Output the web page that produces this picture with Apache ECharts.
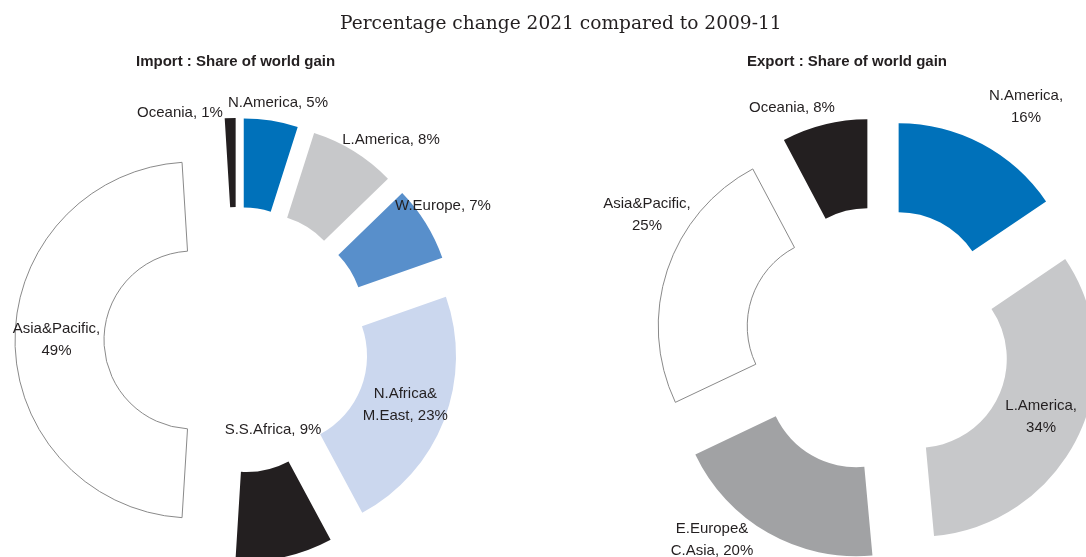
<!DOCTYPE html>
<html>
<head>
<meta charset="utf-8">
<script src="https://cdn.jsdelivr.net/npm/echarts@6/dist/echarts.min.js"></script>
<style>
html,body{margin:0;padding:0;background:#fff;}
#chart{width:1086px;height:557px;}
</style>
</head>
<body>
<div id="chart"></div>
<script>
// ---- Data ----
var importCategories = ['N.America', 'L.America', 'W.Europe', 'N.Africa&M.East', 'S.S.Africa', 'Asia&Pacific', 'Oceania'];
var importValues = [5, 8, 7, 23, 9, 49, 1];
var importLabelNames = ['N.America, ', 'L.America, ', 'W.Europe, ', 'N.Africa&\nM.East, ', 'S.S.Africa, ', 'Asia&Pacific,\n', 'Oceania, '];

var exportCategories = ['N.America', 'L.America', 'E.Europe&C.Asia', 'Asia&Pacific', 'Oceania'];
var exportValues = [16, 34, 20, 25, 8];
var exportLabelNames = ['N.America,\n', 'L.America,\n', 'E.Europe&\nC.Asia, ', 'Asia&Pacific,\n', 'Oceania, '];

// ---- Styles ----
var importColors = ['#0071BA', '#C7C8CA', '#588FCB', '#CBD7EE', '#231F20', '#FFFFFF', '#231F20'];
var exportColors = ['#0071BA', '#C7C8CA', '#A1A2A4', '#FFFFFF', '#231F20'];
var outlined = { 'Asia&Pacific': true };

// label placements outside the slices (null = label drawn inside the slice)
var importLabelPos = [[278, 103], [391, 140], [443, 206], null, [273, 430], null, [180, 113]];
var exportLabelPos = [[1026, 107], null, [712, 540], [647, 215], [792, 108]];

var textColor = '#231F20';
var labelFont = 'Liberation Sans, Arial, sans-serif';

function buildData(cats, vals, colors, labelPos) {
  return cats.map(function (c, i) {
    var st = { color: colors[i] };
    if (outlined[c]) { st.borderColor = '#8A8A8A'; st.borderWidth = 1; }
    else { st.borderWidth = 0; }
    return { name: c, value: vals[i], selected: true, itemStyle: st, label: { show: !labelPos[i] } };
  });
}

function buildSeries(cats, vals, colors, labelNames, labelPos, center) {
  return {
    type: 'pie',
    center: center,
    radius: [89, 178],
    startAngle: 90,
    clockwise: true,
    selectedMode: 'multiple',
    selectedOffset: 44,
    avoidLabelOverlap: false,
    silent: true,
    animation: false,
    emphasis: { disabled: true },
    label: {
      show: true,
      position: 'inside',
      color: textColor,
      fontFamily: labelFont,
      fontSize: 15,
      lineHeight: 22,
      align: 'center',
      formatter: function (p) { return labelNames[p.dataIndex] + p.value + '%'; }
    },
    labelLine: { show: false },
    data: buildData(cats, vals, colors, labelPos)
  };
}

function buildOutsideLabels(vals, labelNames, labelPos) {
  var out = [];
  vals.forEach(function (v, i) {
    var pos = labelPos[i];
    if (!pos) return;
    out.push({
      type: 'text', x: pos[0], y: pos[1], silent: true, z: 100,
      style: {
        text: labelNames[i] + v + '%',
        fill: textColor, font: '15px ' + labelFont,
        lineHeight: 22, align: 'center', verticalAlign: 'middle'
      }
    });
  });
  return out;
}

var chart = echarts.init(document.getElementById('chart'), null, { renderer: 'canvas' });
chart.setOption({
  animation: false,
  backgroundColor: '#ffffff',
  title: [
    {
      text: 'Percentage change 2021 compared to 2009-11',
      left: 340, top: 15, padding: 0,
      textStyle: { fontFamily: 'DejaVu Serif, serif', fontWeight: 'normal', fontSize: 18.6, color: '#231F20' }
    },
    {
      text: 'Import : Share of world gain',
      left: 136, top: 54, padding: 0,
      textStyle: { fontFamily: labelFont, fontWeight: 'bold', fontSize: 15, color: '#231F20' }
    },
    {
      text: 'Export : Share of world gain',
      left: 747, top: 54, padding: 0,
      textStyle: { fontFamily: labelFont, fontWeight: 'bold', fontSize: 15, color: '#231F20' }
    }
  ],
  graphic: buildOutsideLabels(importValues, importLabelNames, importLabelPos)
    .concat(buildOutsideLabels(exportValues, exportLabelNames, exportLabelPos)),
  series: [
    buildSeries(importCategories, importValues, importColors, importLabelNames, importLabelPos, [237, 340]),
    buildSeries(exportCategories, exportValues, exportColors, exportLabelNames, exportLabelPos, [878, 340])
  ]
});
</script>
</body>
</html>
